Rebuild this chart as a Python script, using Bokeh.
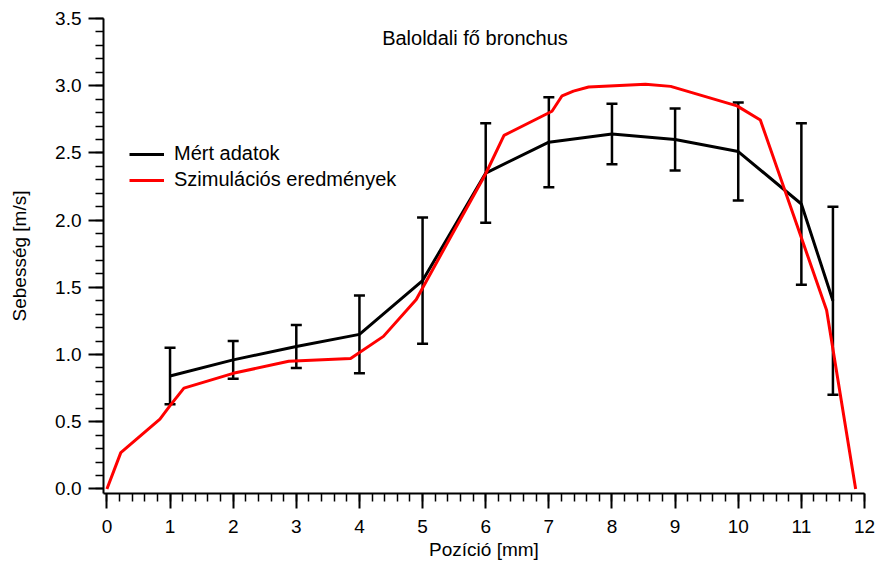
from bokeh.plotting import figure
from bokeh.models import (ColumnDataSource, Whisker, TeeHead, Legend, LegendItem,
                          Label, SingleIntervalTicker, NumeralTickFormatter, Range1d)
from bokeh.embed import file_html
from bokeh.resources import INLINE

# Measured velocities along the left main bronchus (mean ± std)
meas_pos = [1, 2, 3, 4, 5, 6, 7, 8, 9, 10, 11, 11.5]
meas_vel = [0.84, 0.96, 1.06, 1.15, 1.55, 2.35, 2.58, 2.64, 2.60, 2.51, 2.12, 1.40]
meas_err = [0.21, 0.14, 0.16, 0.29, 0.47, 0.37, 0.335, 0.225, 0.23, 0.365, 0.60, 0.70]

# Simulated velocity profile
sim_pos = [0, 0.22, 0.84, 1.0, 1.22, 2.0, 2.88, 3.86, 4.38, 4.9, 5.44, 6.0, 6.29,
           7.05, 7.21, 7.39, 7.63, 8.53, 8.93, 9.98, 10.35, 11.4, 11.86]
sim_vel = [0, 0.27, 0.52, 0.62, 0.75, 0.86, 0.95, 0.97, 1.135, 1.41, 1.87, 2.345, 2.63,
           2.81, 2.925, 2.96, 2.99, 3.01, 2.995, 2.85, 2.745, 1.33, 0]

title_text = "Baloldali fő bronchus"
x_label = "Pozíció [mm]"
y_label = "Sebesség [m/s]"
legend_labels = ["Mért adatok", "Szimulációs eredmények"]

FONT = "Liberation Sans"

p = figure(width=877, height=567, output_backend="svg", toolbar_location=None,
           x_range=Range1d(-0.054, 12.0), y_range=Range1d(-0.034, 3.5),
           min_border_left=103, min_border_right=13, min_border_top=18,
           min_border_bottom=74)
p.outline_line_color = None
p.xgrid.visible = False
p.ygrid.visible = False
p.background_fill_color = "white"
p.border_fill_color = "white"

for ax in (p.xaxis[0], p.yaxis[0]):
    ax.axis_line_width = 2
    ax.axis_line_color = "black"
    ax.major_tick_in = 0
    ax.major_tick_out = 15
    ax.minor_tick_in = 0
    ax.minor_tick_out = 8
    ax.major_tick_line_width = 2
    ax.minor_tick_line_width = 1.5
    ax.major_tick_line_color = "black"
    ax.minor_tick_line_color = "black"
    ax.major_label_text_font = FONT
    ax.major_label_text_font_size = "19px"
    ax.major_label_text_color = "black"
    ax.axis_label_text_font = FONT
    ax.axis_label_text_font_size = "19px"
    ax.axis_label_text_font_style = "normal"
    ax.axis_label_text_color = "black"

p.xaxis.ticker = SingleIntervalTicker(interval=1, num_minor_ticks=5)
p.yaxis.ticker = SingleIntervalTicker(interval=0.5, num_minor_ticks=5)
p.yaxis.formatter = NumeralTickFormatter(format="0.0")
p.xaxis.axis_label = x_label
p.yaxis.axis_label = y_label
p.xaxis.major_label_standoff = 11
p.xaxis.axis_label_standoff = 3
p.yaxis.major_label_standoff = 7
p.yaxis.axis_label_standoff = 22

meas = ColumnDataSource(data=dict(
    x=meas_pos, y=meas_vel,
    upper=[v + e for v, e in zip(meas_vel, meas_err)],
    lower=[v - e for v, e in zip(meas_vel, meas_err)],
))
sim = ColumnDataSource(data=dict(x=sim_pos, y=sim_vel))

meas_line = p.line("x", "y", source=meas, line_color="black", line_width=3)
whisk = Whisker(source=meas, base="x", upper="upper", lower="lower",
                line_color="black", line_width=2.5,
                upper_head=TeeHead(size=11, line_color="black", line_width=2.5),
                lower_head=TeeHead(size=11, line_color="black", line_width=2.5))
p.add_layout(whisk)
sim_line = p.line("x", "y", source=sim, line_color="#ff0000", line_width=3)

legend = Legend(items=[LegendItem(label=legend_labels[0], renderers=[meas_line]),
                       LegendItem(label=legend_labels[1], renderers=[sim_line])],
                location=(26, 302), orientation="vertical",
                padding=0, margin=0, spacing=3,
                glyph_width=35, glyph_height=20, label_height=20,
                label_standoff=10, border_line_alpha=0, background_fill_alpha=0,
                label_text_font=FONT, label_text_font_size="20px",
                label_text_color="black")
p.add_layout(legend, "center")

title = Label(x=5.83, y=3.354, text=title_text, text_align="center",
              text_baseline="alphabetic", text_font=FONT, text_font_size="20px",
              text_color="black")
p.add_layout(title)

open("out.html", "w").write(file_html(p, INLINE))
